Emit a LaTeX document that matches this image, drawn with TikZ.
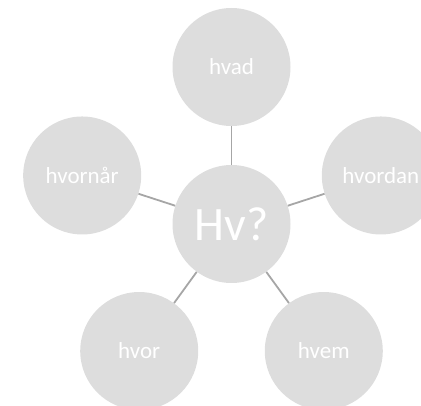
\documentclass[tikz,border=0pt]{standalone}
\usepackage{fontspec}
\setmainfont{Carlito}
\usetikzlibrary{calc}
\definecolor{bubble}{HTML}{DDDDDD}
\definecolor{link}{HTML}{A6A6A6}
\begin{document}
\begin{tikzpicture}[x=1pt,y=1pt,
  bubble/.style={circle,fill=bubble,draw=none,minimum size=118pt,inner sep=0pt,text=white,font=\fontsize{23}{23}\selectfont},
  hub/.style={bubble,font=\fontsize{48}{48}\selectfont},
  link/.style={draw=link,line width=1.8pt}]
\useasboundingbox (0,0) rectangle (421,-406);
\clip (0,0) rectangle (421,-406);
\coordinate (o) at (231.5,-224);
\node[hub] (c) at (o) {Hv?};
\node[bubble] (a) at ($(o)+(90:157)$) {hvad};
\node[bubble] (b) at ($(o)+(18:157)$) {hvordan};
\node[bubble] (d) at ($(o)+(-54:157)$) {hvem};
\node[bubble] (e) at ($(o)+(-126:157)$) {hvor};
\node[bubble] (f) at ($(o)+(162:157)$) {hvornår};
\foreach \n in {a,b,d,e,f} \draw[link] (c) -- (\n);
\end{tikzpicture}
\end{document}
